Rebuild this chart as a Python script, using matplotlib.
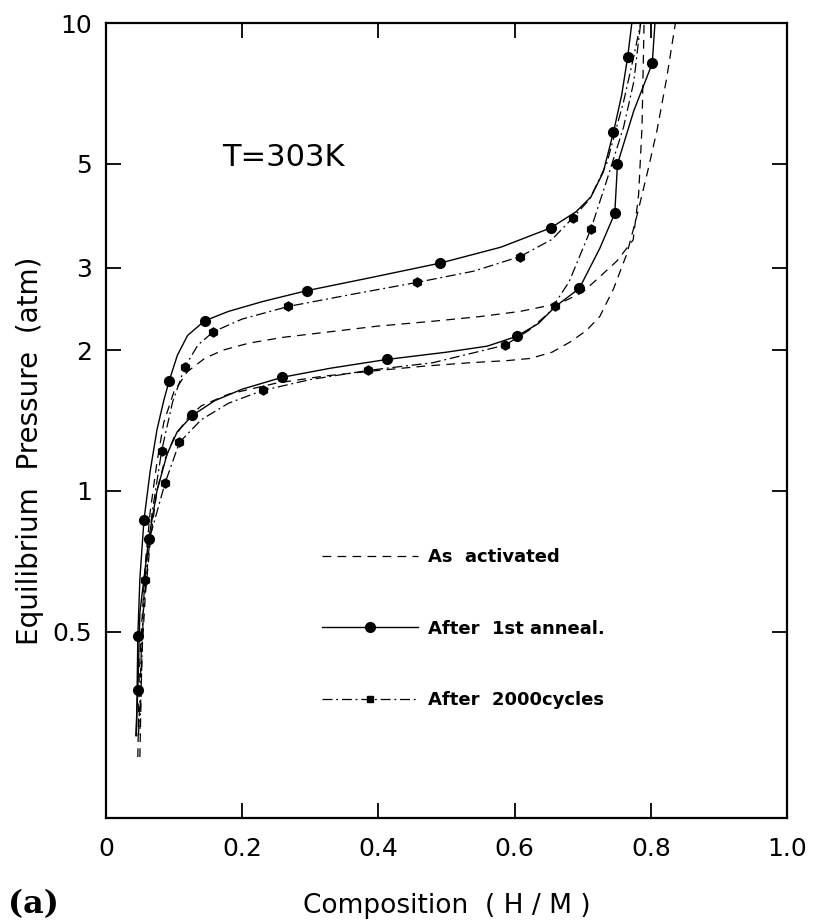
import numpy as np
import matplotlib
matplotlib.use("Agg")
import matplotlib.pyplot as plt
from matplotlib.lines import Line2D

# ---- data (x = H/M, y = atm) ----
# as activated, absorption / desorption traces (dashed, no markers)
act_abs_x = [0.047, 0.049, 0.052, 0.058, 0.065, 0.075, 0.085, 0.10, 0.12, 0.145, 0.172, 0.21, 0.26,
             0.33, 0.398, 0.486, 0.55, 0.608, 0.667, 0.70, 0.725, 0.75, 0.774, 0.782, 0.787, 0.79]
act_abs_y = [0.27, 0.40, 0.50, 0.70, 0.90, 1.15, 1.40, 1.63, 1.80, 1.92, 2.00, 2.07, 2.13,
             2.19, 2.25, 2.31, 2.36, 2.42, 2.52, 2.66, 2.87, 3.10, 3.44, 4.3, 6.0, 10.0]
act_des_x = [0.050, 0.053, 0.058, 0.066, 0.075, 0.087, 0.10, 0.12, 0.14, 0.18, 0.25, 0.32, 0.40,
             0.47, 0.535, 0.59, 0.623, 0.655, 0.681, 0.705, 0.725, 0.745, 0.765, 0.78, 0.795,
             0.809, 0.823, 0.836]
act_des_y = [0.27, 0.45, 0.60, 0.80, 1.00, 1.17, 1.30, 1.43, 1.52, 1.61, 1.70, 1.76, 1.81,
             1.85, 1.88, 1.90, 1.92, 1.98, 2.08, 2.20, 2.36, 2.70, 3.22, 3.9, 4.8,
             5.9, 7.6, 10.0]

# after 1st anneal (solid line, round markers)
ann_abs_x = [0.045, 0.047, 0.050, 0.056, 0.065, 0.075, 0.085, 0.093, 0.105, 0.12, 0.145, 0.18, 0.23,
             0.295, 0.39, 0.491, 0.58, 0.653, 0.69, 0.712, 0.73, 0.745, 0.757, 0.766, 0.772]
ann_abs_y = [0.30, 0.49, 0.65, 0.867, 1.10, 1.35, 1.56, 1.72, 1.95, 2.15, 2.31, 2.42, 2.54,
             2.68, 2.86, 3.07, 3.32, 3.65, 3.95, 4.25, 4.8, 5.84, 7.0, 8.47, 10.0]
ann_abs_mx = [0.047, 0.056, 0.093, 0.145, 0.295, 0.491, 0.653, 0.745, 0.766]
ann_abs_my = [0.49, 0.867, 1.72, 2.31, 2.68, 3.07, 3.65, 5.84, 8.47]
ann_des_x = [0.044, 0.047, 0.050, 0.063, 0.075, 0.09, 0.105, 0.127, 0.16, 0.20, 0.259, 0.33, 0.412,
             0.50, 0.56, 0.603, 0.635, 0.66, 0.695, 0.725, 0.747, 0.751, 0.775, 0.802, 0.806]
ann_des_y = [0.30, 0.376, 0.55, 0.79, 1.00, 1.20, 1.34, 1.45, 1.56, 1.65, 1.75, 1.83, 1.91,
             1.98, 2.04, 2.14, 2.28, 2.48, 2.71, 3.30, 3.92, 5.0, 6.5, 8.2, 10.0]
ann_des_mx = [0.047, 0.063, 0.127, 0.259, 0.412, 0.603, 0.695, 0.747, 0.751, 0.802]
ann_des_my = [0.376, 0.79, 1.45, 1.75, 1.91, 2.14, 2.71, 3.92, 5.0, 8.2]

# after 2000 cycles (dash-dot line, small markers)
cyc_abs_x = [0.048, 0.052, 0.057, 0.068, 0.082, 0.098, 0.116, 0.135, 0.158, 0.20, 0.268, 0.36,
             0.456, 0.54, 0.608, 0.655, 0.685, 0.71, 0.735, 0.76, 0.775, 0.785]
cyc_abs_y = [0.30, 0.45, 0.645, 0.90, 1.22, 1.55, 1.84, 2.05, 2.19, 2.33, 2.48, 2.63,
             2.79, 2.95, 3.17, 3.45, 3.83, 4.2, 5.0, 6.8, 8.5, 10.0]
cyc_abs_mx = [0.057, 0.082, 0.116, 0.158, 0.268, 0.456, 0.608, 0.685]
cyc_abs_my = [0.645, 1.22, 1.84, 2.19, 2.48, 2.79, 3.17, 3.83]
cyc_des_x = [0.050, 0.055, 0.065, 0.087, 0.108, 0.14, 0.18, 0.230, 0.30, 0.385, 0.48, 0.586,
             0.62, 0.65, 0.68, 0.712, 0.735, 0.76, 0.775, 0.785]
cyc_des_y = [0.31, 0.55, 0.80, 1.04, 1.27, 1.42, 1.54, 1.64, 1.73, 1.81, 1.88, 2.05,
             2.20, 2.40, 2.80, 3.63, 4.6, 6.0, 7.5, 10.0]
cyc_des_mx = [0.087, 0.108, 0.230, 0.385, 0.586, 0.660, 0.712]
cyc_des_my = [1.04, 1.27, 1.64, 1.81, 2.05, 2.48, 3.63]

yticks = [0.5, 1, 2, 3, 5, 10]
ytick_labels = ["0.5", "1", "2", "3", "5", "10"]
xticks = [0, 0.2, 0.4, 0.6, 0.8, 1.0]
xtick_labels = ["0", "0.2", "0.4", "0.6", "0.8", "1.0"]

fig = plt.figure(figsize=(8.14, 9.24), dpi=100)
ax = fig.add_axes([0.130, 0.1147, 0.837, 0.8603])

k = "black"
dash = (0, (7, 5))
dashdot = (0, (8, 3, 1.5, 3))

ax.plot(act_abs_x, act_abs_y, color=k, lw=0.9, ls=dash)
ax.plot(act_des_x, act_des_y, color=k, lw=0.9, ls=dash)

ax.plot(ann_abs_x, ann_abs_y, color=k, lw=1.0, ls="-")
ax.plot(ann_abs_mx, ann_abs_my, "o", color=k, ms=7)
ax.plot(ann_des_x, ann_des_y, color=k, lw=1.0, ls="-")
ax.plot(ann_des_mx, ann_des_my, "o", color=k, ms=7)

ax.plot(cyc_abs_x, cyc_abs_y, color=k, lw=0.9, ls=dashdot)
ax.plot(cyc_abs_mx, cyc_abs_my, "h", color=k, ms=6.5)
ax.plot(cyc_des_x, cyc_des_y, color=k, lw=0.9, ls=dashdot)
ax.plot(cyc_des_mx, cyc_des_my, "h", color=k, ms=6.5)

ax.set_yscale("log")
ax.set_xlim(0, 1.0)
ax.set_ylim(0.2, 10)
ax.set_yticks(yticks)
ax.set_yticklabels(ytick_labels)
ax.yaxis.set_minor_locator(matplotlib.ticker.NullLocator())
ax.set_xticks(xticks)
ax.set_xticklabels(xtick_labels)
ax.tick_params(direction="in", length=11, width=1.3, labelsize=18,
               top=True, right=True)
ax.tick_params(axis="x", pad=14)
ax.tick_params(axis="y", pad=10)
for s in ax.spines.values():
    s.set_linewidth(1.6)

ax.set_xlabel("Composition  ( H / M )", fontsize=19)
ax.xaxis.set_label_coords(0.5, -(893 - 818) / 795)
ax.set_ylabel("Equilibrium  Pressure  (atm)", fontsize=20)
ax.yaxis.set_label_coords(-(106 - 44) / 681, (818 - 451) / 795)
fig.text(222 / 814, 1 - 158 / 924, "T=303K", fontsize=22, va="center", ha="left")
fig.text(8 / 814, 1 - 905 / 924, "(a)", fontsize=23, family="DejaVu Serif",
         weight="bold", va="center", ha="left")

handles = [
    Line2D([], [], color=k, lw=0.9, ls=dash),
    Line2D([], [], color=k, lw=1.0, ls="-", marker="o", ms=7),
    Line2D([], [], color=k, lw=0.9, ls=dashdot, marker="s", ms=5),
]
labels = ["As  activated", "After  1st anneal.", "After  2000cycles"]
ax.legend(handles, labels, frameon=False, loc="upper left",
          bbox_to_anchor=((306 - 106) / 681, (818 - 532) / 795),
          prop={"size": 13, "weight": "bold"}, handlelength=5.3,
          labelspacing=2.95, handletextpad=0.55)

fig.savefig("out.png", dpi=100)
